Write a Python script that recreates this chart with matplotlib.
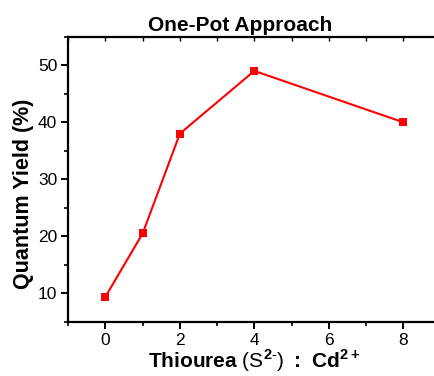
#!/usr/bin/env python3
"""
Quantum yield vs. thiourea : Cd ratio for the one-pot synthesis.
"""
import matplotlib
matplotlib.use("Agg")
import matplotlib.pyplot as plt
from matplotlib.ticker import MultipleLocator

ratio = [0, 1, 2, 4, 8]
quantum_yield = [9.4, 20.5, 38.0, 49.0, 40.0]


def main() -> None:
    plt.rcParams["font.family"] = ["Liberation Sans", "DejaVu Sans"]
    plt.rcParams["mathtext.fontset"] = "custom"
    plt.rcParams["mathtext.rm"] = "Liberation Sans"
    plt.rcParams["mathtext.bf"] = "Liberation Sans:bold"

    fig = plt.figure(figsize=(4.35, 3.76), dpi=100)
    ax = fig.add_axes([68.3 / 435, 1 - 321.7 / 376, 372 / 435, (321.7 - 36.7) / 376])

    ax.plot(ratio, quantum_yield, color="red", lw=1.5, marker="s", ms=5.2,
            markeredgewidth=0, clip_on=False)

    ax.set_xlim(-1, 9)
    ax.set_ylim(5, 55)
    ax.xaxis.set_major_locator(MultipleLocator(2))
    ax.xaxis.set_minor_locator(MultipleLocator(1))
    ax.yaxis.set_major_locator(MultipleLocator(10))
    ax.yaxis.set_minor_locator(MultipleLocator(5))

    for side in ("left", "bottom", "top"):
        ax.spines[side].set_linewidth(1.6)
    ax.spines["right"].set_visible(False)

    ax.tick_params(axis="both", which="major", direction="out", length=5, width=1.4,
                   labelsize=12.5, pad=3)
    ax.tick_params(axis="both", which="minor", direction="out", length=3, width=1.2)

    # inward ticks along the top edge, one per unit
    top = ax.secondary_xaxis("top")
    top.xaxis.set_major_locator(MultipleLocator(1))
    top.tick_params(direction="in", length=3, width=1.0, labeltop=False)
    top.spines["top"].set_visible(False)

    ax.set_title("One-Pot Approach", fontsize=15, fontweight="bold", pad=4, x=0.463)
    ax.set_xlabel(r"$\mathbf{Thiourea}$ (S$^{\mathbf{2\text{-}}}$) $\mathbf{{:}\ Cd^{2+}}$",
                  fontsize=15, labelpad=0)
    ax.set_ylabel("Quantum Yield (%)", fontsize=15.5, fontweight="bold")
    ax.yaxis.set_label_coords(-0.093, 0.45)

    fig.savefig("out.png", dpi=100)
    plt.close(fig)


if __name__ == "__main__":
    main()
